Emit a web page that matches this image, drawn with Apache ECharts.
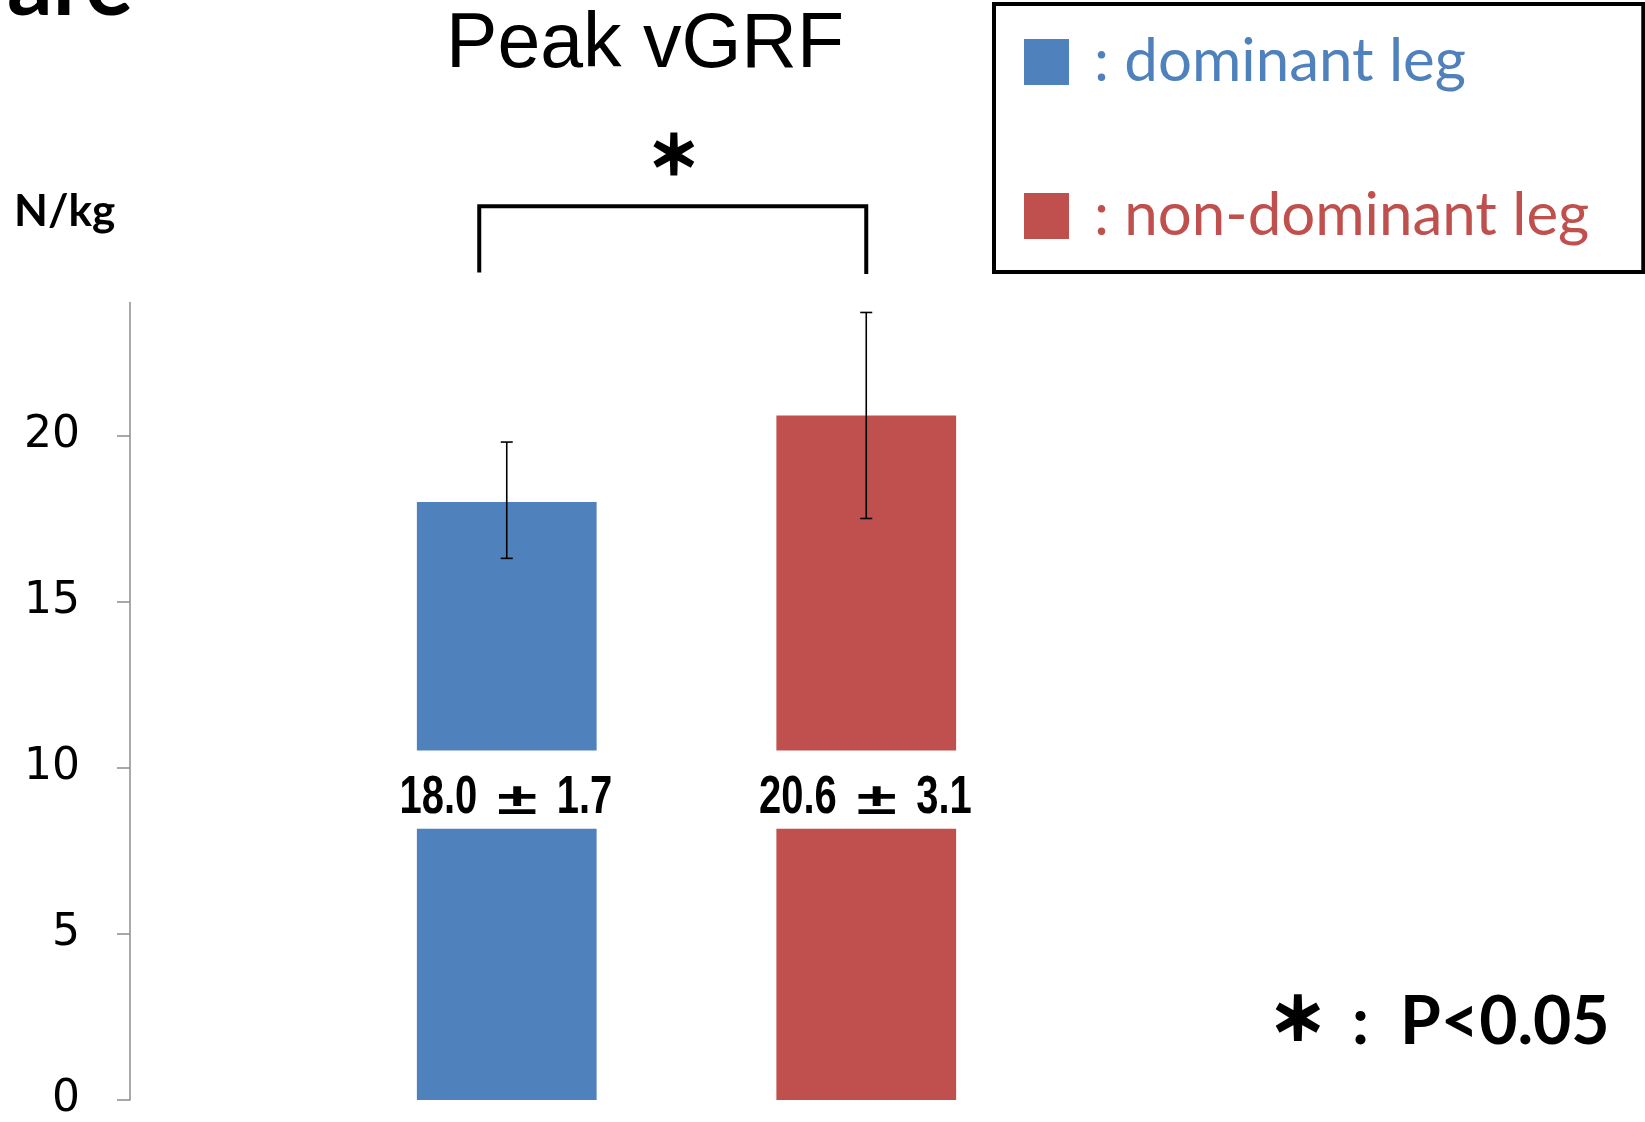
<!DOCTYPE html>
<html>
<head>
<meta charset="utf-8">
<script src="https://cdn.jsdelivr.net/npm/echarts@6/dist/echarts.min.js"></script>
<style>
html,body{margin:0;padding:0;background:#fff;}
#chart{width:1645px;height:1122px;}
</style>
</head>
<body>
<div id="chart"></div>
<script>
// ---- data ----
const categories = ['dominant leg', 'non-dominant leg'];
const means = [18.0, 20.6];
const sdText = [1.7, 3.1];
const errLower = [16.3, 17.5];
const errUpper = [19.8, 23.7];
const yTicks = [0, 5, 10, 15, 20];
const colors = ['#4F81BD', '#C0504D'];
const bracketLevels = [24.9, 26.9];   // foot, top (data units)
const labelBand = [8.16, 10.52];       // white band behind the value labels (data units)
const labelLevel = 9.18;               // value-label text centre (data units)

const chart = echarts.init(document.getElementById('chart'), null, {renderer: 'canvas'});

const barSeries = categories.map((name, i) => ({
  name: name,
  type: 'bar',
  barWidth: '50%',
  barGap: '-100%',
  itemStyle: {color: colors[i]},
  data: categories.map((c, j) => j === i ? means[j] : '-'),
  z: 2
}));

const numFont = 'bold 54px "Liberation Sans", Arial, sans-serif';
const pmFont = 'bold 44px "Liberation Sans", Arial, sans-serif';

const option = {
  animation: false,
  backgroundColor: '#fff',
  title: {
    text: 'Peak vGRF',
    left: 640,
    top: 2,
    textAlign: 'center',
    textStyle: {fontFamily: '"Liberation Sans", Arial, sans-serif', fontWeight: 'normal', fontSize: 77, color: '#000'}
  },
  legend: {
    orient: 'vertical',
    left: 994,
    top: 4,
    itemWidth: 45,
    itemHeight: 46,
    itemGap: 94,
    icon: 'rect',
    padding: [28, 54, 26, 30],
    borderColor: '#000',
    borderWidth: 4,
    formatter: ': {name}',
    data: [
      {name: categories[0], textStyle: {color: colors[0]}},
      {name: categories[1], textStyle: {color: colors[1]}}
    ],
    textStyle: {fontFamily: 'Lato, "Open Sans", sans-serif', fontSize: 60, padding: [0, 0, 0, 20]}
  },
  grid: {left: 327, right: 599, top: 302.5, bottom: 15.3, containLabel: false},
  xAxis: {
    type: 'category',
    data: categories,
    axisLine: {show: false},
    axisTick: {show: false},
    axisLabel: {show: false}
  },
  yAxis: {
    type: 'value',
    min: 0,
    max: 24,
    interval: 5,
    offset: 197,
    splitLine: {show: false},
    axisLine: {show: true, lineStyle: {color: '#8c8c8c', width: 1.5}},
    axisTick: {show: true, inside: false, length: 13, customValues: yTicks, lineStyle: {color: '#8c8c8c', width: 1.5}},
    axisLabel: {
      customValues: yTicks,
      margin: 50,
      color: '#000',
      fontFamily: '"DejaVu Sans", Verdana, sans-serif',
      fontSize: 44
    }
  },
  series: [
    ...barSeries,
    {
      type: 'custom',
      name: 'valueLabels',
      z: 4,
      clip: false,
      silent: true,
      data: categories.map((c, i) => [i, means[i], sdText[i]]),
      renderItem: (params, api) => {
        const idx = api.value(0);
        const bw = api.size([1, 0])[0] * 0.5;
        const lo = api.coord([idx, labelBand[0]]);
        const hi = api.coord([idx, labelBand[1]]);
        const cx = lo[0];
        const cy = api.coord([idx, labelLevel])[1] + 3;
        return {
          type: 'group',
          children: [
            {type: 'rect', shape: {x: cx - bw / 2 - 1, y: hi[1], width: bw + 2, height: lo[1] - hi[1]}, style: {fill: '#fff'}},
            {type: 'text', x: cx - 29.5, y: cy, scaleX: 0.74,
              style: {text: api.value(1).toFixed(1), align: 'right', verticalAlign: 'middle', font: numFont, fill: '#000'}},
            {type: 'text', x: cx + 10.5, y: cy + 3.6, scaleX: 1.65,
              style: {text: '±', align: 'center', verticalAlign: 'middle', font: pmFont, fill: '#000'}},
            {type: 'text', x: cx + 50, y: cy, scaleX: 0.74,
              style: {text: api.value(2).toFixed(1), align: 'left', verticalAlign: 'middle', font: numFont, fill: '#000'}}
          ]
        };
      }
    },
    {
      type: 'custom',
      name: 'error',
      z: 5,
      clip: false,
      data: categories.map((c, i) => [i, errLower[i], errUpper[i]]),
      renderItem: (params, api) => {
        const idx = api.value(0);
        const lo = api.coord([idx, api.value(1)]);
        const hi = api.coord([idx, api.value(2)]);
        const cap = 6;
        const st = {stroke: '#000', lineWidth: 1.6};
        return {
          type: 'group',
          children: [
            {type: 'line', shape: {x1: hi[0], y1: hi[1], x2: lo[0], y2: lo[1]}, style: st},
            {type: 'line', shape: {x1: hi[0] - cap, y1: hi[1], x2: hi[0] + cap, y2: hi[1]}, style: st},
            {type: 'line', shape: {x1: lo[0] - cap, y1: lo[1], x2: lo[0] + cap, y2: lo[1]}, style: st}
          ]
        };
      }
    },
    {
      type: 'custom',
      name: 'bracket',
      z: 5,
      clip: false,
      silent: true,
      data: [[0, 1]],
      renderItem: (params, api) => {
        const a = api.coord([0, bracketLevels[0]]);
        const b = api.coord([1, bracketLevels[0]]);
        const t = api.coord([0, bracketLevels[1]]);
        const x1 = a[0] - 27.5, x2 = b[0];
        return {
          type: 'group',
          children: [
            {type: 'polyline', shape: {points: [[x1, a[1]], [x1, t[1]], [x2, t[1]], [x2, b[1] + 1.5]]},
             style: {stroke: '#000', lineWidth: 4, fill: null}},
            {type: 'text', style: {text: '＊', x: (x1 + x2) / 2 + 1, y: t[1] - 52, align: 'center', verticalAlign: 'middle',
              font: 'bold 52px "Noto Sans CJK JP", sans-serif', fill: '#000', stroke: '#000', lineWidth: 3}}
          ]
        };
      }
    }
  ],
  graphic: [
    {type: 'text', left: 7, top: -59, style: {text: 'are', font: 'bold 90px Lato, sans-serif', fill: '#000'}},
    {type: 'text', left: 14, top: 190, style: {text: 'N/kg', font: 'bold 44px Lato, sans-serif', fill: '#000'}},
    {type: 'text', left: 1268, top: 988, style: {text: '＊', font: 'bold 56px "Noto Sans CJK JP", sans-serif', fill: '#000', stroke: '#000', lineWidth: 3.5}},
    {type: 'text', left: 1352, top: 990, style: {text: ':', font: 'bold 66px Lato, sans-serif', fill: '#000'}},
    {type: 'text', left: 1400, top: 990, style: {text: 'P<0.05', font: 'bold 66px Lato, sans-serif', fill: '#000'}}
  ]
};
chart.setOption(option);
</script>
</body>
</html>
